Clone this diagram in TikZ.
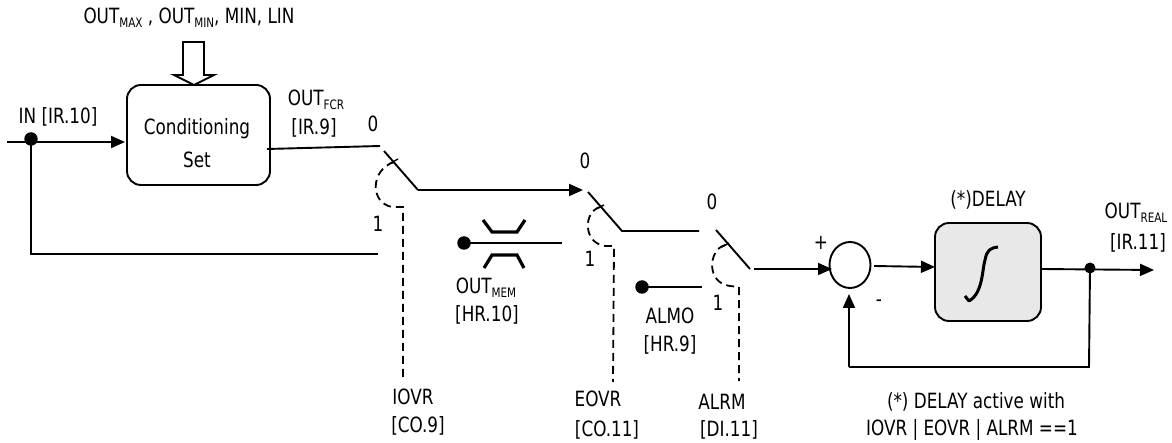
\documentclass[tikz,border=0pt]{standalone}
\usepackage{fontspec}
\setmainfont{DejaVu Sans Condensed}[FakeStretch=0.89]
\usetikzlibrary{arrows.meta,shapes.geometric}
\newcommand{\sbs}[1]{\raisebox{-4pt}{\fontsize{13}{13}\selectfont #1}}
\tikzset{
  x=1pt,y=-1pt,
  wire/.style={line width=1.9pt,black},
  flow/.style={wire,-{Triangle[length=14pt,width=12pt]}},
  ctrl/.style={line width=1.8pt,dash pattern=on 8pt off 5pt},
  txt/.style={inner sep=0pt,font=\fontsize{21}{23}\selectfont},
  dotn/.style={circle,fill=black,inner sep=0pt,minimum size=13.5pt},
  block/.style={draw,line width=1.9pt,rounded corners=14pt,inner sep=0pt},
  sumn/.style={draw,line width=1.9pt,ellipse,inner sep=0pt,minimum width=41pt,minimum height=46pt},
  tick/.style={line width=1.4pt}
}
\begin{document}
\begin{tikzpicture}
\useasboundingbox (0,0) rectangle (1172,443);
% blocks
\node[block,minimum width=143pt,minimum height=100pt] (cond) at (198.5,135) {};
\node[txt] (condA) at (197,129) {Conditioning};
\node[txt] (condB) at (197,160) {Set};
\node[block,fill=black!9,minimum width=106pt,minimum height=98pt] (delay) at (988,272) {};
\node[sumn] (sum) at (850,265) {};
% dots
\node[dotn] (din) at (31,139) {};
\node[dotn] (dmem) at (464,243) {};
\node[dotn] (dalm) at (642,287) {};
\node[circle,fill=black,inner sep=0pt,minimum size=11pt] (dout) at (1090,268) {};
% coordinates
\coordinate (inS) at (7,142);
\coordinate (inE) at (125,142);
\coordinate (fbC) at (31,254);
\coordinate (fbE) at (378,254);
\coordinate (fcrS) at (267,149);
\coordinate (fcrE) at (380,146);
\coordinate (s1a) at (384,151);
\coordinate (s1b) at (418,190);
\coordinate (s2a) at (588,192);
\coordinate (s2b) at (622,231);
\coordinate (s2in) at (583,190);
\coordinate (s2out) at (699,231);
\coordinate (s3a) at (716,230);
\coordinate (s3b) at (750,269);
\coordinate (s3out) at (754,269);
\coordinate (s3tip) at (832,269);
\coordinate (sumOut) at (874,266);
\coordinate (delIn) at (935,267);
\coordinate (delOut) at (1041,269);
\coordinate (memE) at (562,243);
\coordinate (almE) at (702,287);
\coordinate (outTip) at (1154,270);
\coordinate (fbR) at (1089,367);
\coordinate (fbL) at (849,367);
\coordinate (fbTip) at (849,294);
% main wires
\draw[flow] (inS) -- (inE);
\draw[wire] (din.center) -- (fbC) -- (fbE);
\draw[wire] (fcrS) -- (fcrE);
\draw[wire] (s1a) -- (s1b);
\draw[flow] (s1b) -- (s2in);
\draw[wire] (s2a) -- (s2b) -- (s2out);
\draw[wire] (s3a) -- (s3b);
\draw[flow] (s3out) -- (s3tip);
\draw[flow] (sumOut) -- (delIn);
\draw[flow] (delOut) -- (outTip);
\draw[wire] (dout.center) -- (fbR) -- (fbL);
\draw[flow] (fbL) -- (fbTip);
\draw[wire] (dmem.center) -- (memE);
\draw[wire] (dalm.center) -- (almE);
% restrictor
\draw[line width=3.2pt] (483,220) -- (492,232) -- (517,232) -- (525,220);
\draw[line width=3.2pt] (484,268) -- (492,255) -- (517,255) -- (524,268);
% hollow arrow
\draw[line width=1.9pt,fill=white] (183,42) -- (204,42) -- (204,75) -- (214,75) -- (194,85) -- (174,75) -- (183,75) -- cycle;
% dashed controls
\draw[tick] (389,164) -- (398,159);
\draw[tick] (596,209) -- (604,205);
\draw[tick] (722,247) -- (729,243);
\draw[ctrl] (394,162) .. controls (370,170) and (370,203) .. (392,207) -- (403,207) -- (403,377);
\draw[ctrl] (600,207) .. controls (583,212) and (583,243) .. (605,246) -- (614,246) -- (613,382);
\draw[ctrl] (725,245) .. controls (708,250) and (706,283) .. (730,286) -- (739,287) -- (739,381);
% integral
\draw[line width=3pt,line join=round] (965,296) -- (969,301) .. controls (983,293) and (982,270) .. (985,260) .. controls (987,250) and (990,248) .. (998,247);
% text
\node[txt] (tparams) at (189,18) {OUT\sbs{MAX} , OUT\sbs{MIN}, MIN, LIN};
\node[txt] (tin) at (58,117) {IN [IR.10]};
\node[txt] (tfcr) at (316,100) {OUT\sbs{FCR}};
\node[txt] (tfcr2) at (314,128) {[IR.9]};
\node[txt] (z1) at (373,124) {0};
\node[txt] (o1) at (378,224) {1};
\node[txt] (z2) at (585,161) {0};
\node[txt] (o2) at (590,259) {1};
\node[txt] (z3) at (712,202) {0};
\node[txt] (o3) at (718,303) {1};
\node[txt] (tmem) at (486,288) {OUT\sbs{MEM}};
\node[txt] (tmem2) at (487,315) {[HR.10]};
\node[txt] (talmo) at (670,316) {ALMO};
\node[txt] (talmo2) at (670,345) {[HR.9]};
\node[txt] (tiovr) at (413,397) {IOVR};
\node[txt] (tiovr2) at (418,426) {[CO.9]};
\node[txt] (teovr) at (598,399) {EOVR};
\node[txt] (teovr2) at (607,430) {[CO.11]};
\node[txt] (talrm) at (722,402) {ALRM};
\node[txt] (talrm2) at (729,430) {[DI.11]};
\node[txt] (tplus) at (821,243) {+};
\node[txt] (tminus) at (879,303) {-};
\node[txt] (tdelay) at (988,200) {(*)DELAY};
\node[txt] (tout) at (1136,213) {OUT\sbs{REAL}};
\node[txt] (tout2) at (1138,243) {[IR.11]};
\node[txt] (tnote) at (976,402) {(*) DELAY active with};
\node[txt] (tnote2) at (972,430) {IOVR | EOVR | ALRM ==1};
\end{tikzpicture}
\end{document}
